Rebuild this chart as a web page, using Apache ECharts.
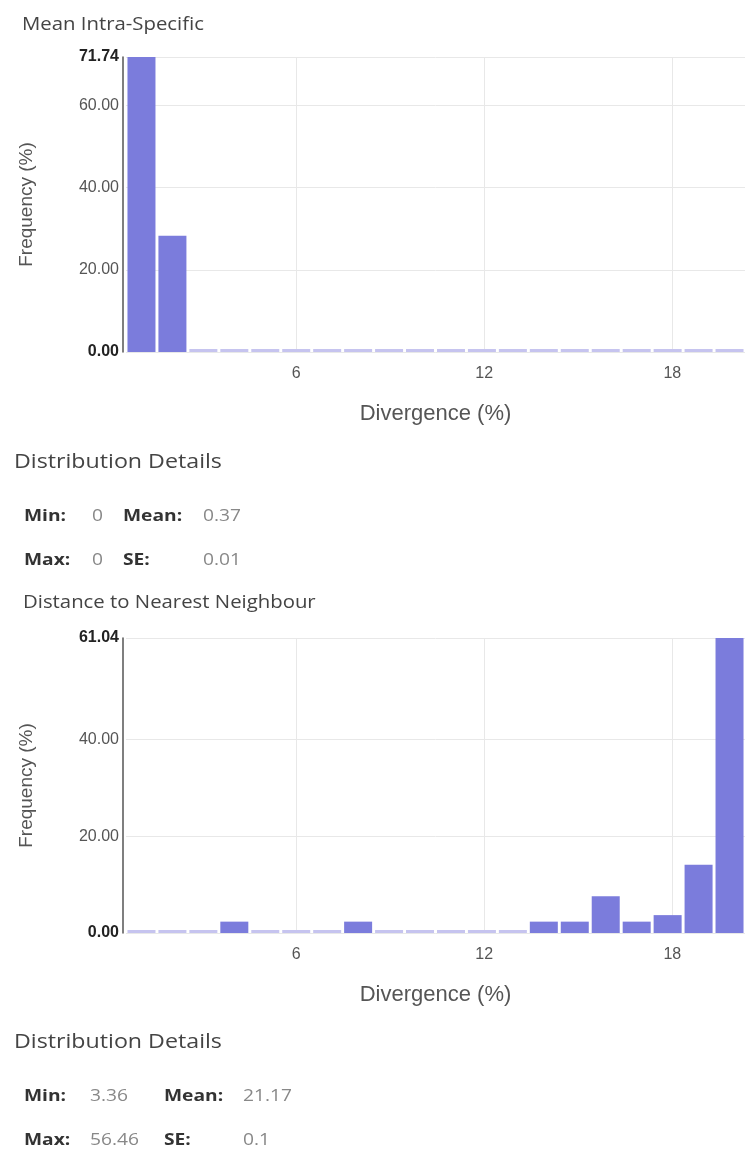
<!DOCTYPE html>
<html>
<head>
<meta charset="utf-8">
<script src="https://cdn.jsdelivr.net/npm/echarts@6/dist/echarts.min.js"></script>
<style>
html,body{margin:0;padding:0;background:#fff;}
#c{width:745px;height:1151px;}
</style>
</head>
<body>
<div id="c"></div>
<script>
// ---- data ----
const bins = ['1','2','3','4','5','6','7','8','9','10','11','12','13','14','15','16','17','18','19','20'];
const intraValues = [71.74,28.26,0,0,0,0,0,0,0,0,0,0,0,0,0,0,0,0,0,0];
const nnValues = [0,0,0,2.35,0,0,0,2.35,0,0,0,0,0,2.35,2.35,7.6,2.35,3.7,14.1,61.04];
const xTicks = [6,12,18];
const intraYTicks = [0,20,40,60,71.74];
const nnYTicks = [0,20,40,61.04];
const intraStats = {min:'0', mean:'0.37', max:'0', se:'0.01'};
const nnStats = {min:'3.36', mean:'21.17', max:'56.46', se:'0.1'};

const BAR = '#7b7cdc';
const ZERO = '#c6c4ef';
const LABEL_FONT = 'Liberation Sans, Arial, sans-serif';
const TEXT_FONT = '"Open Sans", sans-serif';

function yAxisCfg(gi, ticks){
  const mx = ticks[ticks.length-1];
  return {
    type:'value', gridIndex:gi, min:0, max:mx, offset:3,
    name:'Frequency (%)', nameLocation:'middle', nameGap:87,
    nameTextStyle:{fontFamily:LABEL_FONT, fontSize:19, color:'#555'},
    axisLine:{show:true, lineStyle:{color:'#555', width:1.5}},
    axisTick:{show:false, customValues:ticks},
    axisLabel:{customValues:ticks, margin:4, fontFamily:LABEL_FONT, fontSize:16, color:'#555',
      formatter:(v)=> (v===0||v===mx) ? '{b|'+v.toFixed(2)+'}' : v.toFixed(2),
      rich:{b:{fontFamily:LABEL_FONT, fontSize:16, fontWeight:'bold', color:'#222'}}},
    splitLine:{show:true, lineStyle:{color:'#e8e8e8', width:1}}
  };
}
function xCatCfg(gi){
  return {
    type:'category', gridIndex:gi, data:bins, position:'top', boundaryGap:true,
    axisLine:{show:false}, axisTick:{show:false}, axisLabel:{show:false}, splitLine:{show:false}
  };
}
function xValCfg(gi){
  return {
    type:'value', gridIndex:gi, min:0.57, max:20.32, position:'bottom',
    name:'Divergence (%)', nameLocation:'middle', nameGap:51,
    nameTextStyle:{fontFamily:LABEL_FONT, fontSize:22, color:'#555'},
    axisLine:{show:false}, axisTick:{show:false, customValues:xTicks},
    axisLabel:{customValues:xTicks, margin:14, fontFamily:LABEL_FONT, fontSize:16, color:'#555'},
    splitLine:{show:true, lineStyle:{color:'#e8e8e8', width:1}}
  };
}
function barSeries(xi, yi, vals){
  return {
    type:'bar', xAxisIndex:xi, yAxisIndex:yi, data:vals,
    barWidth:28, barMinHeight:3, z:1, silent:true, animation:false,
    itemStyle:{color:(p)=> p.value===0 ? ZERO : BAR}
  };
}

function txt(x,y,text,size,color,weight,sx){
  return {type:'text', x:x, y:y, scaleX:sx||1, silent:true,
    style:{text:text, fill:color, font:(weight||'normal')+' '+size+'px '+TEXT_FONT, verticalAlign:'middle', align:'left'}};
}
function statsBlock(y0, s, c1, c2, c3){
  const S = 1.2;
  return [
    txt(14, y0, 'Distribution Details', 20, '#444', 'normal', 1.16),
    txt(24, y0+54, 'Min:', 16, '#333', 'bold', S),
    txt(c1, y0+54, s.min, 16, '#888', 'normal', S),
    txt(c2, y0+54, 'Mean:', 16, '#333', 'bold', S),
    txt(c3, y0+54, s.mean, 16, '#888', 'normal', S),
    txt(24, y0+98, 'Max:', 16, '#333', 'bold', S),
    txt(c1, y0+98, s.max, 16, '#888', 'normal', S),
    txt(c2, y0+98, 'SE:', 16, '#333', 'bold', S),
    txt(c3, y0+98, s.se, 16, '#888', 'normal', S)
  ];
}

const chart = echarts.init(document.getElementById('c'), null, {renderer:'canvas'});
chart.setOption({
  animation:false,
  backgroundColor:'#fff',
  grid:[
    {left:126, top:57, height:295, width:627},
    {left:126, top:638, height:295, width:627}
  ],
  xAxis:[xCatCfg(0), xValCfg(0), xCatCfg(1), xValCfg(1)],
  yAxis:[yAxisCfg(0, intraYTicks), yAxisCfg(1, nnYTicks)],
  series:[barSeries(0, 0, intraValues), barSeries(2, 1, nnValues)],
  graphic:[
    txt(22, 25, 'Mean Intra-Specific', 18, '#444', 'normal', 1.13),
    ...statsBlock(462, intraStats, 92, 123, 203),
    txt(23, 603, 'Distance to Nearest Neighbour', 18, '#444', 'normal', 1.13),
    ...statsBlock(1042, nnStats, 90, 164, 243)
  ]
});
</script>
</body>
</html>
